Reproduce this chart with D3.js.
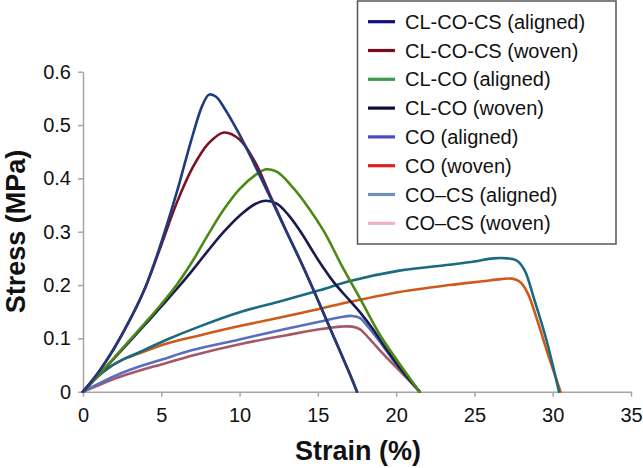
<!DOCTYPE html>
<html><head><meta charset="utf-8">
<script src="https://cdn.jsdelivr.net/npm/d3@7"></script>
<style>
body{margin:0;background:#fff;}
svg{display:block;font-family:"Liberation Sans",Arial,sans-serif;}
</style></head>
<body><svg id="c" width="643" height="468"></svg>
<script>
const seriesNames = ["CL-CO-CS (aligned)","CL-CO-CS (woven)","CL-CO (aligned)","CL-CO (woven)","CO (aligned)","CO (woven)","CO\u2013CS (aligned)","CO\u2013CS (woven)"];
const legendColors = ["#10107a","#7a0a1e","#3a9a50","#0c0c3a","#4a4ac8","#e02020","#7090c0","#f0b0c8"];
const lineColors = ["#1f3a7e","#7a1422","#4a8a14","#1a1a4c","#1a6a80","#d05818","#5a6ec0","#a25868"];
// [strain %, stress MPa]
const clcocsAligned = [[0,0],[1,0.037],[2,0.082],[3,0.135],[4,0.197],[5,0.28],[6,0.375],[6.5,0.428],[7,0.48],[7.6,0.535],[8.05,0.557],[8.5,0.553],[9,0.533],[10,0.482],[11,0.423],[12,0.362],[13,0.3],[14,0.238],[15,0.172],[16,0.104],[17,0.036],[17.5,0]];
const clcocsWoven = [[0,0],[1,0.037],[2,0.082],[3,0.135],[4,0.197],[5,0.275],[6,0.355],[7,0.42],[8,0.465],[9,0.486],[10,0.473],[11,0.43],[12,0.365],[13,0.3],[14,0.238],[15,0.172],[16,0.104],[17,0.036],[17.5,0]];
const clcoAligned = [[0,0],[1,0.031],[2,0.064],[3,0.097],[4,0.13],[5,0.164],[6,0.201],[7,0.245],[8,0.295],[9,0.342],[10,0.38],[11,0.406],[11.7,0.417],[12.4,0.412],[13.4,0.383],[14.4,0.345],[15.4,0.3],[16.5,0.238],[17.8,0.169],[19,0.105],[20.2,0.053],[21.5,0]];
const clcoWoven = [[0,0],[1,0.031],[2,0.063],[3,0.095],[4,0.127],[5,0.16],[6,0.193],[7,0.228],[8,0.265],[9,0.3],[10,0.33],[11,0.352],[11.7,0.358],[12.4,0.352],[13.1,0.332],[13.9,0.3],[15,0.248],[16,0.206],[17,0.172],[17.8,0.145],[18.5,0.118],[19.3,0.083],[20.3,0.042],[21.5,0]];
const coAligned = [[0,0],[0.8,0.025],[1.7,0.046],[2.6,0.061],[3.6,0.074],[5.3,0.097],[7.5,0.123],[10,0.149],[12.8,0.171],[15.1,0.19],[17,0.207],[20.2,0.227],[23.4,0.238],[25,0.244],[26.2,0.25],[27.1,0.25],[27.7,0.246],[28.2,0.228],[28.8,0.175],[29.6,0.097],[30.4,0]];
const coWoven = [[0,0],[0.8,0.025],[1.7,0.046],[2.6,0.061],[3.6,0.072],[5.3,0.09],[7.5,0.106],[10,0.123],[13.85,0.147],[17,0.168],[20.2,0.187],[23.4,0.2],[25.5,0.207],[26.7,0.211],[27.4,0.212],[27.9,0.206],[28.4,0.185],[29,0.135],[29.7,0.07],[30.5,0]];
const cocsAligned = [[0,0],[1,0.015],[2,0.029],[3,0.041],[4,0.051],[5,0.06],[7,0.078],[10,0.098],[13,0.118],[15.1,0.131],[16.5,0.14],[17.2,0.142],[17.7,0.138],[18.2,0.122],[19,0.092],[20,0.052],[21.5,0]];
const cocsWoven = [[0,0],[1,0.012],[2,0.024],[3,0.034],[4,0.043],[5,0.051],[7,0.068],[10,0.089],[13,0.106],[15.1,0.117],[16.5,0.122],[17.2,0.122],[17.7,0.117],[18.3,0.099],[19.2,0.07],[20.2,0.04],[21.5,0]];
const seriesData = [clcocsAligned,clcocsWoven,clcoAligned,clcoWoven,coAligned,coWoven,cocsAligned,cocsWoven];
const xTicks = [0,5,10,15,20,25,30,35];
const yTicks = [0,0.1,0.2,0.3,0.4,0.5,0.6];
const yTickLabels = ["0","0.1","0.2","0.3","0.4","0.5","0.6"];

const svg = d3.select("#c");
const x = d3.scaleLinear().domain([0,35]).range([83,631]);
const y = d3.scaleLinear().domain([0,0.6]).range([391.7,71.7]);

const gx = svg.append("g").attr("transform","translate(0,391.7)")
  .call(d3.axisBottom(x).tickValues(xTicks).tickSize(5).tickSizeOuter(0).tickPadding(11));
const gy = svg.append("g").attr("transform","translate(83,0)")
  .call(d3.axisLeft(y).tickValues(yTicks).tickFormat((d,i)=>yTickLabels[i]).tickSize(5).tickSizeOuter(0).tickPadding(7));
[gx,gy].forEach(g=>{
  g.select(".domain").attr("stroke","#a6a6a6").attr("stroke-width",1.5);
  g.selectAll(".tick line").attr("stroke","#a6a6a6").attr("stroke-width",1.5);
  g.selectAll(".tick text").attr("fill","#111").style("font-size","20px").style("font-family","Liberation Sans, Arial, sans-serif");
});

const line = d3.line().x(d=>x(d[0])).y(d=>y(d[1])).curve(d3.curveCatmullRom.alpha(0.5));
const order = [7,6,5,4,3,2,1,0];
svg.append("g").selectAll("path").data(order).join("path")
  .attr("d",i=>line(seriesData[i]))
  .attr("fill","none").attr("stroke",i=>lineColors[i]).attr("stroke-width",2.6)
  .attr("stroke-linejoin","round").attr("stroke-linecap","round");

svg.append("text").attr("x",358).attr("y",460).attr("text-anchor","middle")
  .style("font-size","27px").style("font-weight","bold").attr("fill","#111").text("Strain (%)");
svg.append("text").attr("transform","translate(25,231.5) rotate(-90)").attr("text-anchor","middle")
  .style("font-size","27px").style("font-weight","bold").attr("fill","#111").text("Stress (MPa)");

const lg = svg.append("g");
lg.append("rect").attr("x",357.5).attr("y",1).attr("width",258.5).attr("height",243)
  .attr("fill","#fff").attr("stroke","#555").attr("stroke-width",1.5);
const rows = lg.selectAll("g.row").data(seriesNames).join("g").attr("class","row")
  .attr("transform",(d,i)=>`translate(0,${21.7+i*28.8})`);
rows.append("line").attr("x1",368).attr("x2",395).attr("stroke",(d,i)=>legendColors[i]).attr("stroke-width",3.2);
rows.append("text").attr("x",405).attr("dy","0.35em").style("font-size","20px").attr("fill","#111").text(d=>d);
</script></body></html>
